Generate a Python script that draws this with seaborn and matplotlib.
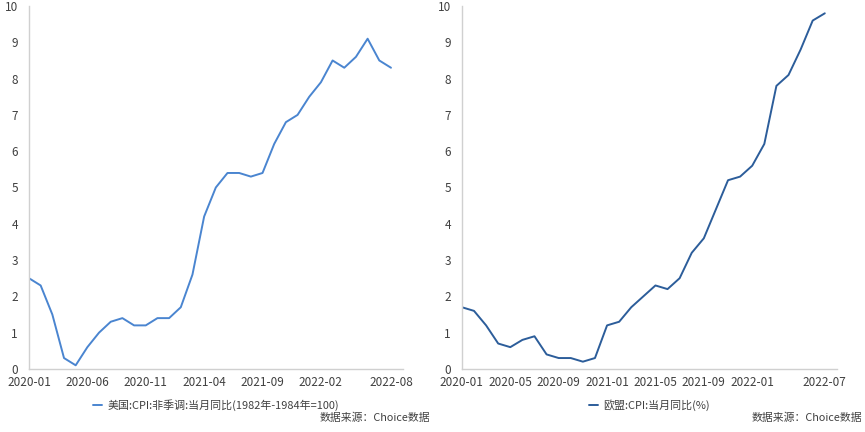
import numpy as np
import pandas as pd
import seaborn as sns
import matplotlib.pyplot as plt

# US CPI YoY, 2020-01 .. 2022-08
us_months = pd.period_range("2020-01", "2022-08", freq="M").strftime("%Y-%m").tolist()
us_cpi = [2.5, 2.3, 1.5, 0.3, 0.1, 0.6, 1.0, 1.3, 1.4, 1.2, 1.2, 1.4,
          1.4, 1.7, 2.6, 4.2, 5.0, 5.4, 5.4, 5.3, 5.4, 6.2, 6.8, 7.0,
          7.5, 7.9, 8.5, 8.3, 8.6, 9.1, 8.5, 8.3]

# EU CPI YoY, 2020-01 .. 2022-07
eu_months = pd.period_range("2020-01", "2022-07", freq="M").strftime("%Y-%m").tolist()
eu_cpi = [1.7, 1.6, 1.2, 0.7, 0.6, 0.8, 0.9, 0.4, 0.3, 0.3, 0.2, 0.3,
          1.2, 1.3, 1.7, 2.0, 2.3, 2.2, 2.5, 3.2, 3.6, 4.4, 5.2, 5.3,
          5.6, 6.2, 7.8, 8.1, 8.8, 9.6, 9.8]

us_label = "美国:CPI:非季调:当月同比(1982年-1984年=100)"
eu_label = "欧盟:CPI:当月同比(%)"
source = "数据来源：Choice数据"

sns.set_style("white")
plt.rcParams['font.family'] = ['Noto Sans CJK SC', 'DejaVu Sans']
plt.rcParams['axes.unicode_minus'] = False

fig = plt.figure(figsize=(8.65, 4.32), dpi=100)
ax1 = fig.add_axes([0.0335, 0.146, 0.432, 0.840])
ax2 = fig.add_axes([0.534, 0.146, 0.4335, 0.840])

df_us = pd.DataFrame({"idx": np.arange(len(us_months)), "val": us_cpi})
df_eu = pd.DataFrame({"idx": np.arange(len(eu_months)), "val": eu_cpi})

sns.lineplot(data=df_us, x="idx", y="val", ax=ax1, color="#4a85d0", linewidth=1.4, label=us_label)
sns.lineplot(data=df_eu, x="idx", y="val", ax=ax2, color="#2c5d9a", linewidth=1.4, label=eu_label)


def style(ax, months, step, xmax):
    ax.set_xlim(0, xmax)
    ax.set_ylim(0, 10)
    ax.set_yticks(range(0, 11))
    ticks = list(range(0, len(months), step))
    if ticks[-1] != len(months) - 1:
        ticks.append(len(months) - 1)
    labels = [months[i] for i in ticks]
    # drop the label that would collide with the last one
    if ticks[-1] - ticks[-2] < step:
        labels[-2] = ""
    ax.set_xticks(ticks)
    ax.set_xticklabels(labels)
    ax.set_xlabel("")
    ax.set_ylabel("")
    for s in ["top", "right"]:
        ax.spines[s].set_visible(False)
    for s in ["left", "bottom"]:
        ax.spines[s].set_color("#d0d0d0")
        ax.spines[s].set_linewidth(1.0)
    ax.tick_params(axis="x", length=3, color="#d0d0d0", labelsize=8.5, labelcolor="#404040", pad=2)
    ax.tick_params(axis="y", length=0, labelsize=8.5, labelcolor="#404040", pad=8)
    ax.grid(False)
    ax.legend(loc="center", bbox_to_anchor=(0.5, -0.1), frameon=False, fontsize=7.9,
              handlelength=0.8, handletextpad=0.5, labelcolor="#404040")


style(ax1, us_months, 5, len(us_months))
style(ax2, eu_months, 4, len(eu_months))

fig.text(430 / 865, 1 - 418 / 432, source, ha="right", va="center", fontsize=7.8, color="#404040")
fig.text(862 / 865, 1 - 418 / 432, source, ha="right", va="center", fontsize=7.8, color="#404040")

fig.savefig("out.png", dpi=100)
